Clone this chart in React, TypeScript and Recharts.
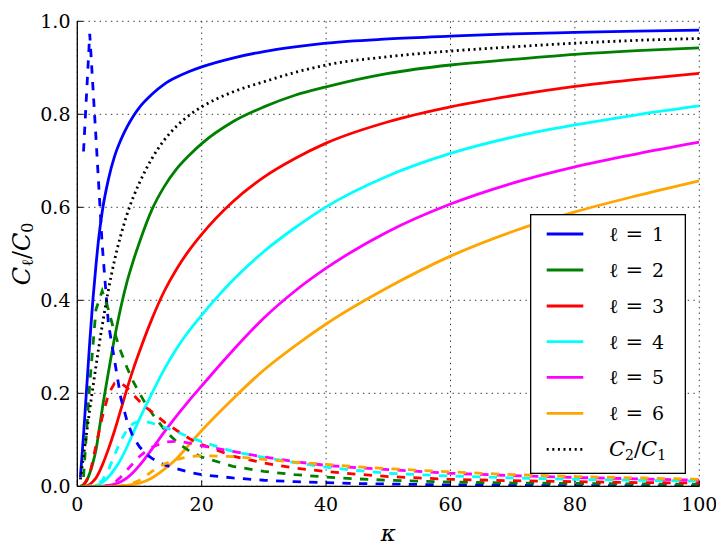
import React from 'react';
import { LineChart, Line, XAxis, YAxis, CartesianGrid, Legend } from 'recharts';

// kappa samples
const solidKappa = [0.5, 1, 1.5, 2, 2.5, 3, 3.5, 4, 5, 6, 7, 8, 9, 10, 12, 14, 16, 18, 20, 25, 30, 35, 40, 50, 60, 70, 80, 90, 100];
const dashedKappa = [1, 2, 3, 4, 5, 6, 7, 8, 9, 10, 11, 12, 14, 16, 18, 20, 25, 30, 35, 40, 45, 50, 60, 70, 80, 90, 100];

// solid curves C_l / C_0
const solidL1 = [0.02, 0.11, 0.21, 0.31, 0.40, 0.475, 0.54, 0.59, 0.66, 0.71, 0.745, 0.773, 0.796, 0.815, 0.843, 0.865, 0.88, 0.892, 0.902, 0.921, 0.935, 0.945, 0.953, 0.962, 0.968, 0.973, 0.976, 0.979, 0.981];
const solidL2 = [0, 0.004, 0.012, 0.028, 0.05, 0.078, 0.12, 0.165, 0.245, 0.32, 0.385, 0.44, 0.485, 0.525, 0.595, 0.645, 0.683, 0.712, 0.737, 0.784, 0.816, 0.841, 0.859, 0.888, 0.906, 0.918, 0.929, 0.937, 0.943];
const solidL3 = [0, 0, 0.001, 0.004, 0.01, 0.018, 0.03, 0.045, 0.08, 0.12, 0.165, 0.21, 0.252, 0.29, 0.36, 0.42, 0.468, 0.508, 0.542, 0.612, 0.665, 0.705, 0.738, 0.784, 0.816, 0.84, 0.86, 0.875, 0.888];
const solidL4 = [0, 0, 0, 0, 0, 0.002, 0.004, 0.008, 0.02, 0.037, 0.058, 0.085, 0.115, 0.145, 0.2, 0.252, 0.297, 0.335, 0.368, 0.443, 0.505, 0.556, 0.601, 0.668, 0.716, 0.751, 0.777, 0.799, 0.818];
const solidL5 = [0, 0, 0, 0, 0, 0, 0, 0, 0.002, 0.005, 0.01, 0.018, 0.03, 0.045, 0.08, 0.117, 0.152, 0.185, 0.216, 0.292, 0.362, 0.42, 0.469, 0.548, 0.607, 0.652, 0.687, 0.715, 0.74];
const solidL6 = [0, 0, 0, 0, 0, 0, 0, 0, 0, 0, 0.001, 0.002, 0.004, 0.007, 0.018, 0.037, 0.06, 0.09, 0.12, 0.188, 0.25, 0.302, 0.349, 0.428, 0.495, 0.548, 0.59, 0.625, 0.657];
const ratioC2C1 = [0.015, 0.065, 0.115, 0.165, 0.212, 0.258, 0.303, 0.345, 0.422, 0.487, 0.54, 0.585, 0.622, 0.653, 0.705, 0.745, 0.775, 0.798, 0.816, 0.848, 0.870, 0.89, 0.906, 0.924, 0.936, 0.945, 0.953, 0.959, 0.963];

// dashed curves
const dashedL1 = [0.72, 0.973, 0.75, 0.52, 0.35, 0.27, 0.19, 0.14, 0.105, 0.085, 0.07, 0.06, 0.046, 0.038, 0.03, 0.025, 0.018, 0.013, 0.01, 0.008, 0.006, 0.005, 0.003, 0.002, 0.002, 0.001, 0.001];
const dashedL2 = [0.02, 0.22, 0.38, 0.42, 0.38, 0.33, 0.29, 0.255, 0.225, 0.2, 0.177, 0.157, 0.122, 0.095, 0.076, 0.063, 0.043, 0.032, 0.025, 0.02, 0.016, 0.013, 0.009, 0.007, 0.006, 0.005, 0.004];
const dashedL3 = [0.002, 0.025, 0.088, 0.148, 0.198, 0.222, 0.222, 0.212, 0.197, 0.183, 0.17, 0.16, 0.138, 0.12, 0.103, 0.09, 0.065, 0.05, 0.039, 0.032, 0.026, 0.021, 0.015, 0.012, 0.01, 0.008, 0.007];
const dashedL4 = [0, 0.001, 0.004, 0.012, 0.035, 0.068, 0.098, 0.122, 0.135, 0.14, 0.139, 0.136, 0.127, 0.117, 0.106, 0.096, 0.075, 0.062, 0.051, 0.041, 0.034, 0.028, 0.022, 0.018, 0.015, 0.013, 0.011];
const dashedL5 = [0, 0, 0, 0, 0.002, 0.008, 0.02, 0.035, 0.05, 0.064, 0.075, 0.084, 0.095, 0.097, 0.093, 0.087, 0.075, 0.063, 0.053, 0.045, 0.04, 0.036, 0.028, 0.023, 0.019, 0.016, 0.013];
const dashedL6 = [0, 0, 0, 0, 0, 0, 0.001, 0.003, 0.007, 0.013, 0.022, 0.032, 0.048, 0.058, 0.064, 0.066, 0.064, 0.058, 0.052, 0.047, 0.042, 0.038, 0.031, 0.025, 0.021, 0.018, 0.015];

const seriesColors = ['#0000ff', '#008000', '#ff0000', '#00ffff', '#ff00ff', '#ffa500'];
const legendLabels = ['1', '2', '3', '4', '5', '6'];
const xTicks = [0, 20, 40, 60, 80, 100];
const yTicks = [0, 0.2, 0.4, 0.6, 0.8, 1.0];

const solidSeries = [solidL1, solidL2, solidL3, solidL4, solidL5, solidL6];
const dashedSeries = [dashedL1, dashedL2, dashedL3, dashedL4, dashedL5, dashedL6];

const solidRows = solidKappa.map((k, i) => {
  const row: Record<string, number> = { k, ratio: ratioC2C1[i] };
  solidSeries.forEach((s, j) => { row['s' + (j + 1)] = s[i]; });
  return row;
});
const dashedRows = dashedKappa.map((k, i) => {
  const row: Record<string, number> = { k };
  dashedSeries.forEach((s, j) => { row['d' + (j + 1)] = s[i]; });
  return row;
});

const FONT = "'DejaVu Serif', 'Liberation Serif', 'Times New Roman', serif";
const LW = 2.8;
const DOTS = '2 3.6';

const LegendBox = () => {
  const rowY = [20, 56, 92, 127.7, 163.3, 199.3, 235.3];
  return (
    <svg width={156} height={260} style={{ display: 'block' }}>
      <rect x={0.65} y={0.65} width={154.7} height={258.7} fill="#fff" stroke="#000" strokeWidth={1.3} />
      {legendLabels.map((lab, i) => (
        <g key={lab}>
          <line x1={16.7} x2={53.3} y1={rowY[i]} y2={rowY[i]} stroke={seriesColors[i]} strokeWidth={LW} />
          <text x={79} y={rowY[i] + 7} style={{ fontFamily: FONT }} fontSize={20} fill="#000">ℓ</text>
          <text x={95.5} y={rowY[i] + 7} style={{ fontFamily: FONT }} fontSize={21} fill="#000">=</text>
          <text x={122} y={rowY[i] + 7} style={{ fontFamily: FONT }} fontSize={19} fill="#000">{lab}</text>
        </g>
      ))}
      <line x1={16.7} x2={53.3} y1={rowY[6]} y2={rowY[6]} stroke="#000" strokeWidth={LW} strokeDasharray={DOTS} />
      <text x={79} y={rowY[6] + 7} style={{ fontFamily: FONT }} fontSize={21} fill="#000">
        <tspan fontStyle="italic">C</tspan>
        <tspan fontSize={14} dy={4}>2</tspan>
        <tspan dy={-4}>/</tspan>
        <tspan fontStyle="italic">C</tspan>
        <tspan fontSize={14} dy={4}>1</tspan>
      </text>
    </svg>
  );
};

const YLabel = (props: any) => {
  const vb = props.viewBox || { x: 0, y: 13.3, width: 69.3, height: 465 };
  const cx = 14;
  const cy = vb.y + vb.height / 2;
  return (
    <text x={cx} y={cy} transform={`rotate(-90, ${cx}, ${cy})`} textAnchor="middle" dominantBaseline="central" style={{ fontFamily: FONT }} fontSize={24} fill="#000">
      <tspan fontStyle="italic">C</tspan>
      <tspan fontSize={16} dy={5}>ℓ</tspan>
      <tspan dy={-5}>/</tspan>
      <tspan fontStyle="italic">C</tspan>
      <tspan fontSize={16} dy={5}>0</tspan>
    </text>
  );
};

const XLabel = (props: any) => {
  const vb = props.viewBox || { x: 69.3, y: 478.3, width: 622, height: 68.7 };
  const cx = vb.x + vb.width / 2;
  return (
    <text x={cx} y={533} textAnchor="middle" style={{ fontFamily: FONT }} fontSize={23} fontStyle="italic" fill="#000">κ</text>
  );
};

const tickStyle = { fill: '#000', fontSize: 19, fontFamily: FONT, style: { fontFamily: FONT } };

export default function App() {
  return (
    <div style={{ width: 716, height: 547, background: '#fff', fontFamily: FONT }}>
      <LineChart width={716} height={547} margin={{ top: 13.3, right: 24.7, bottom: 0, left: 0 }} style={{ fontFamily: FONT }}>
        <CartesianGrid stroke="#000" strokeWidth={0.8} strokeDasharray="1.4 4.2" />
        <XAxis
          dataKey="k"
          type="number"
          domain={[0, 100]}
          ticks={xTicks}
          interval={0}
          height={68.7}
          tickSize={-5.6}
          tickMargin={17}
          tick={tickStyle}
          axisLine={{ stroke: '#000', strokeWidth: 1.3 }}
          tickLine={{ stroke: '#000', strokeWidth: 1 }}
          allowDataOverflow
          label={{ content: XLabel }}
        />
        <XAxis
          xAxisId="top"
          orientation="top"
          type="number"
          domain={[0, 100]}
          ticks={xTicks}
          interval={0}
          height={0}
          mirror
          tick={false}
          tickSize={5.6}
          axisLine={{ stroke: '#000', strokeWidth: 1.3 }}
          tickLine={{ stroke: '#000', strokeWidth: 1 }}
          allowDataOverflow
        />
        <YAxis
          type="number"
          domain={[0, 1]}
          ticks={yTicks}
          interval={0}
          width={69.3}
          tickSize={-5.6}
          tickMargin={12.4}
          tick={tickStyle}
          tickFormatter={(v: number) => v.toFixed(1)}
          axisLine={{ stroke: '#000', strokeWidth: 1.3 }}
          tickLine={{ stroke: '#000', strokeWidth: 1 }}
          allowDataOverflow
          label={{ content: YLabel }}
        />
        <YAxis
          yAxisId="right"
          orientation="right"
          type="number"
          domain={[0, 1]}
          ticks={yTicks}
          interval={0}
          width={0}
          mirror
          tick={false}
          tickSize={5.6}
          axisLine={{ stroke: '#000', strokeWidth: 1.3 }}
          tickLine={{ stroke: '#000', strokeWidth: 1 }}
          allowDataOverflow
        />
        {seriesColors.map((c, i) => (
          <Line
            key={'s' + i}
            data={solidRows}
            dataKey={'s' + (i + 1)}
            type="monotone"
            stroke={c}
            strokeWidth={LW}
            dot={false}
            activeDot={false}
            isAnimationActive={false}
            legendType="none"
          />
        ))}
        {seriesColors.map((c, i) => (
          <Line
            key={'d' + i}
            data={dashedRows}
            dataKey={'d' + (i + 1)}
            type="linear"
            stroke={c}
            strokeWidth={LW}
            strokeDasharray="8.3 8.3"
            dot={false}
            activeDot={false}
            isAnimationActive={false}
            legendType="none"
          />
        ))}
        <Line
          data={solidRows}
          dataKey="ratio"
          type="monotone"
          stroke="#000"
          strokeWidth={LW}
          strokeDasharray={DOTS}
          dot={false}
          activeDot={false}
          isAnimationActive={false}
          legendType="none"
        />
        <Legend
          layout="vertical"
          align="center"
          verticalAlign="middle"
          content={() => <LegendBox />}
          wrapperStyle={{ position: 'absolute', left: 522, top: 206, width: 156, height: 260, right: 'auto', bottom: 'auto', margin: 0 }}
        />
      </LineChart>
    </div>
  );
}
